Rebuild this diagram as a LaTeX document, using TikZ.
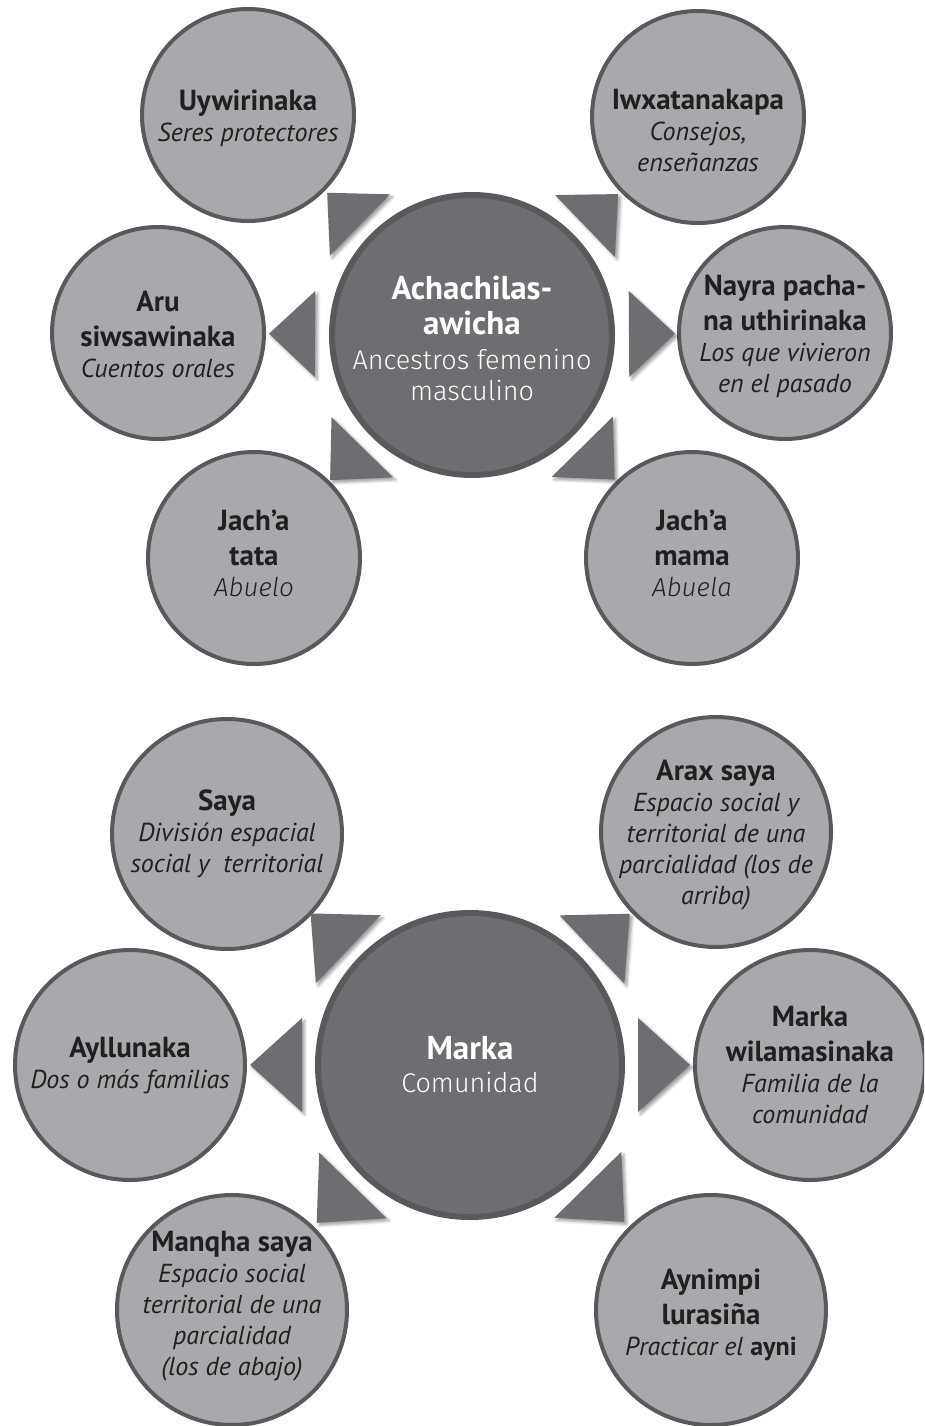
\documentclass[tikz,border=0pt]{standalone}
\usepackage{fontspec}
\setmainfont{PT Sans}
\newfontfamily\lightfont{Fira Sans Light}
\usetikzlibrary{calc,shadows.blur}
\definecolor{satfill}{HTML}{A7A9AC}
\definecolor{ringcol}{HTML}{58595B}
\definecolor{hubfill}{HTML}{6D6E71}
\definecolor{inkcol}{HTML}{231F20}
\newcommand\tb[1]{{\fontsize{29}{31}\selectfont\bfseries #1}}
\newcommand\ti[1]{{\itshape #1}}
\newcommand\hb[1]{{\fontsize{33}{35}\selectfont\bfseries #1}}
\newcommand\hl[1]{{\lightfont #1}}
\newcommand\hubarrow[5]{%
  \path ($(#1.center)!#4pt!(#2.center)$) coordinate (m);
  \fill[tri] ($(#1.center)!#3pt!(#2.center)$) -- ($(m)!#5pt!90:(#2.center)$) -- ($(m)!#5pt!-90:(#2.center)$) -- cycle;}
\begin{document}
\begin{tikzpicture}[x=1pt,y=-1pt,
  sat/.style={circle, draw=ringcol, line width=4pt, fill=satfill, inner sep=0pt},
  satA/.style={sat, minimum size=212pt},
  satB/.style={sat, minimum size=230pt},
  txt/.style={align=center, text=inkcol, inner sep=0pt, font=\fontsize{26}{31}\selectfont},
  hub/.style={circle, draw=ringcol, line width=6pt, fill=hubfill, inner sep=0pt},
  htxt/.style={align=center, text=white, inner sep=0pt, font=\fontsize{27}{35}\selectfont},
  tri/.style={fill=hubfill, blur shadow={shadow xshift=2.5pt, shadow yshift=-2.5pt, shadow blur radius=3pt, shadow opacity=40}},
]
\useasboundingbox (0,0) rectangle (924,1426);
\clip (0,0) rectangle (924,1426);
% ---------- top diagram ----------
\node[hub, minimum size=280pt] (anc) at (472,335) {};
\node[satA] (uyw) at (248,115) {};
\node[satA] (iwx) at (698,117) {};
\node[satA] (aru) at (158,333) {};
\node[satA] (nay) at (785,333) {};
\node[satA] (jta) at (254,558) {};
\node[satA] (jma) at (692,558) {};
\node[htxt] (ancT) at ($(anc)+(0,3)$) {\hb{Achachilas-}\\\hb{awicha}\\\hl{Ancestros femenino}\\[-4pt]\hl{masculino}};
\node[txt] (uywT) at ($(uyw)+(0,3)$) {\tb{Uywirinaka}\\\ti{Seres protectores}};
\node[txt] (iwxT) at ($(iwx)+(0,14)$) {\tb{Iwxatanakapa}\\\ti{Consejos,}\\\ti{enseñanzas}};
\node[txt] (aruT) at ($(aru)+(0,1)$) {\tb{Aru}\\[4pt]\tb{siwsawinaka}\\\ti{Cuentos orales}};
\node[txt] (nayT) at ($(nay)+(0,3)$) {\tb{Nayra pacha-}\\[4pt]\tb{na uthirinaka}\\\ti{Los que vivieron}\\\ti{en el pasado}};
\node[txt] (jtaT) at ($(jta)+(0,-5)$) {\tb{Jach’a}\\[4pt]\tb{tata}\\{\lightfont\itshape Abuelo}};
\node[txt] (jmaT) at ($(jma)+(0,-5)$) {\tb{Jach’a}\\[4pt]\tb{mama}\\{\lightfont\itshape Abuela}};
\foreach \s in {uyw,iwx,aru,nay,jta,jma} {\hubarrow{anc}{\s}{203}{157}{43}}
% ---------- bottom diagram ----------
\node[hub, minimum size=304pt] (mar) at (470,1065) {};
\node[satB] (say) at (227,834) {};
\node[satB] (ara) at (716,832) {};
\node[satB] (ayl) at (130,1065) {};
\node[satB] (mwi) at (810,1065) {};
\node[satB] (man) at (232,1310) {};
\node[satB] (ayn) at (711,1310) {};
\node[htxt] (marT) at (mar) {\hb{Marka}\\[-2pt]\hl{Comunidad}};
\node[txt] (sayT) at (say) {\tb{Saya}\\\ti{División espacial}\\\ti{social y\ \ territorial}};
\node[txt] (araT) at ($(ara)+(0,3)$) {\tb{Arax saya}\\\ti{Espacio social y}\\\ti{territorial de una}\\\ti{parcialidad (los de}\\\ti{arriba)}};
\node[txt] (aylT) at (ayl) {\tb{Ayllunaka}\\\ti{Dos o más familias}};
\node[txt] (mwiT) at (mwi) {\tb{Marka}\\[4pt]\tb{wilamasinaka}\\\ti{Familia de la}\\\ti{comunidad}};
\node[txt] (manT) at ($(man)+(0,-4)$) {\tb{Manqha saya}\\\ti{Espacio social}\\\ti{territorial de una}\\\ti{parcialidad}\\\ti{(los de abajo)}};
\node[txt] (aynT) at ($(ayn)+(0,5)$) {\tb{Aynimpi}\\[4pt]\tb{lurasiña}\\\ti{Practicar el} \textbf{ayni}};
\foreach \s in {say,ara,ayl,mwi,man,ayn} {\hubarrow{mar}{\s}{220}{168}{47}}
\end{tikzpicture}
\end{document}
